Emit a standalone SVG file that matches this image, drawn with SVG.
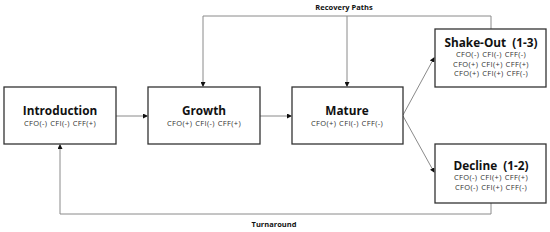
<svg xmlns="http://www.w3.org/2000/svg" width="550" height="232" viewBox="0 0 550 232">
<style>
.box{fill:#fff;stroke:#333;stroke-width:1.3}
.conn{fill:none;stroke:#8a8a8a;stroke-width:1}
.t{font-family:"Open Sans","Noto Sans",sans-serif;font-weight:bold;font-size:11.8px;fill:#111;text-anchor:middle;word-spacing:3px}
.s{font-family:"Open Sans","Noto Sans",sans-serif;font-size:7.5px;fill:#333;text-anchor:middle;letter-spacing:0.35px;word-spacing:0.6px}
.lbl{font-family:"Open Sans","Noto Sans",sans-serif;font-weight:bold;font-size:7.5px;fill:#111;text-anchor:middle}
</style>
<defs>
<marker id="ah" markerWidth="5" markerHeight="5" refX="4" refY="2.5" orient="auto" markerUnits="userSpaceOnUse">
<path d="M0,0 L5,2.5 L0,5 Z" fill="#111"/>
</marker>
</defs>
<rect width="550" height="232" fill="#fff"/>
<g id="connectors">
<line class="conn" x1="116" y1="116" x2="147" y2="116" marker-end="url(#ah)"/>
<line class="conn" x1="260" y1="116" x2="291" y2="116" marker-end="url(#ah)"/>
<line class="conn" x1="403" y1="115" x2="434" y2="58" marker-end="url(#ah)"/>
<line class="conn" x1="403" y1="116" x2="434" y2="172" marker-end="url(#ah)"/>
<polyline class="conn" points="491,29 491,16 203,16 203,86" marker-end="url(#ah)"/>
<line class="conn" x1="347" y1="16" x2="347" y2="86" marker-end="url(#ah)"/>
<polyline class="conn" points="491,203 491,214 60,214 60,145" marker-end="url(#ah)"/>
<text class="lbl" x="344" y="10">Recovery Paths</text>
<text class="lbl" x="274" y="227">Turnaround</text>
</g>
<g id="introduction">
<rect class="box" x="4" y="87" width="112" height="57"/>
<text class="t" x="60" y="114.5">Introduction</text>
<text class="s" x="60" y="125.5">CFO(-) CFI(-) CFF(+)</text>
</g>
<g id="growth">
<rect class="box" x="148" y="87" width="112" height="57"/>
<text class="t" x="204" y="114.5">Growth</text>
<text class="s" x="204" y="125.5">CFO(+) CFI(-) CFF(+)</text>
</g>
<g id="mature">
<rect class="box" x="292" y="87" width="111" height="57"/>
<text class="t" x="347" y="114.5">Mature</text>
<text class="s" x="347" y="125.5">CFO(+) CFI(-) CFF(-)</text>
</g>
<g id="shakeout">
<rect class="box" x="435" y="29" width="111" height="58"/>
<text class="t" x="491" y="46.5">Shake-Out (1-3)</text>
<text class="s" x="491" y="57">CFO(-) CFI(-) CFF(-)</text>
<text class="s" x="491" y="66.5">CFO(+) CFI(+) CFF(+)</text>
<text class="s" x="491" y="76">CFO(+) CFI(+) CFF(-)</text>
</g>
<g id="decline">
<rect class="box" x="435" y="144" width="111" height="59"/>
<text class="t" x="491" y="169.5">Decline (1-2)</text>
<text class="s" x="491" y="180">CFO(-) CFI(+) CFF(+)</text>
<text class="s" x="491" y="189.5">CFO(-) CFI(+) CFF(-)</text>
</g>
</svg>
